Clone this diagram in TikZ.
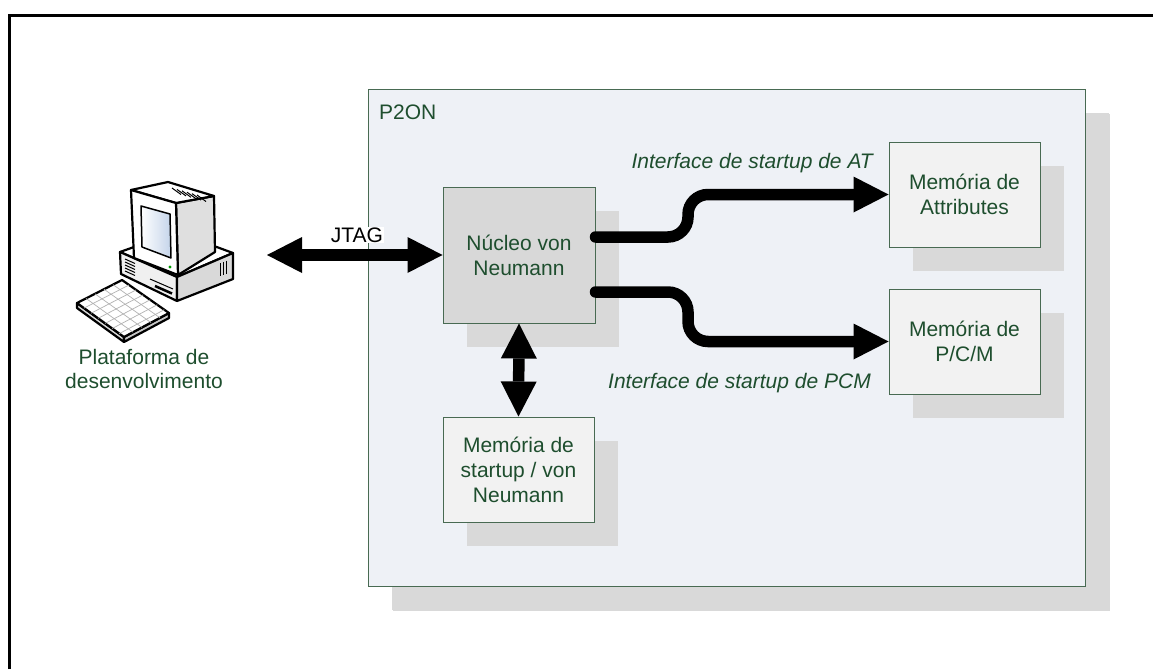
\documentclass[tikz,border=0pt]{standalone}
\usepackage{fontspec}
\setmainfont{Liberation Sans}
\usetikzlibrary{arrows.meta,shadows}
\definecolor{txtgreen}{RGB}{30,78,46}
\definecolor{edgegreen}{RGB}{72,106,82}
\definecolor{panelfill}{RGB}{238,241,246}
\definecolor{shadowgray}{RGB}{217,217,217}
\definecolor{corefill}{RGB}{216,216,216}
\definecolor{memfill}{RGB}{242,242,242}
\definecolor{screenblue}{RGB}{196,212,234}

\begin{document}
\begin{tikzpicture}[x=1pt,y=-1pt,
  txt/.style={font=\fontsize{21}{25}\selectfont, text=txtgreen},
  block/.style={txt, draw=edgegreen, line width=1pt, align=center, inner sep=0pt,
    drop shadow={shadow xshift=24pt, shadow yshift=-24pt, fill=shadowgray, opacity=1}},
  memblock/.style={block, fill=memfill, minimum width=151pt, minimum height=105pt},
  bigtip/.tip={Triangle[length=35pt,width=36pt,line width=0pt]},
  bigarrow/.style={line width=11.5pt, -bigtip},
  bigdouble/.style={line width=11.5pt, bigtip-bigtip},
  pcline/.style={draw=black, line width=2.2pt, line join=round},
]
\useasboundingbox (0,0) rectangle (1153,669);

% outer frame (top and left edges)
\draw[line width=3pt] (9.5,669) -- (9.5,15.5) -- (1153,15.5);

% P2ON enclosure
\node[block, fill=panelfill, minimum width=717pt, minimum height=497pt,
  drop shadow={shadow xshift=25pt, shadow yshift=-25pt, fill=shadowgray, opacity=1}]
  (p2on) at (726.5,337.5) {};
\node[txt, anchor=west, inner sep=0pt] (p2onlabel) at (379,112) {P2ON};

% inner blocks
\node[block, fill=corefill, minimum width=152pt, minimum height=136pt]
  (nucleo) at (519,255) {Núcleo von\\Neumann};
\node[memblock] (attr) at (964.5,194.5) {Memória de\\Attributes};
\node[memblock] (pcm) at (964.5,341.5) {Memória de\\P/C/M};
\node[memblock] (startup) at (518.5,469.5) {Memória de\\startup / von\\Neumann};

% development workstation
\begin{scope}[pcline]
  % base unit
  \filldraw[fill=white] (120,252) -- (176,232) -- (233,253) -- (177,277) -- cycle;
  \filldraw[fill=gray!12] (120,252) -- (177,277) -- (177,301) -- (121,274) -- cycle;
  \filldraw[fill=gray!30] (177,277) -- (233,253) -- (233,279) -- (177,301) -- cycle;
  \foreach \i in {0,...,4}
    \draw[line width=1pt] (125,{259+3*\i}) -- (135,{263.5+3*\i});
  \draw[line width=1pt] (150,279) -- (173,289);
  \draw[line width=2.5pt] (155,286) -- (172,293.5);
  \foreach \i in {0,1,2}
    \draw[line width=1pt] ({220+3*\i},{263-1.1*\i}) -- ({220+3*\i},{276-1.1*\i});
  % monitor housing
  \filldraw[fill=gray!25] (176,203) -- (214,196) -- (215,252) -- (178,275) -- cycle;
  \filldraw[fill=white] (131,190) -- (168,182) -- (214,196) -- (176,203) -- cycle;
  \foreach \i in {0,...,5}
    \draw[line width=1pt] ({172+5*\i},{188+1.4*\i}) -- ({181+5*\i},{194.5+1.4*\i});
  % monitor front and screen
  \filldraw[fill=white] (131,190) -- (176,203) -- (178,275) -- (134,258) -- cycle;
  \shade[left color=white, right color=screenblue, draw=black, line width=1.5pt]
    (141,206) -- (170,214) -- (171,258) -- (142,247) -- cycle;
  \fill[green!60!black] (170,267) circle (1.6);
  % keyboard
  \filldraw[fill=gray!30] (77,303) -- (124,337) -- (124,342) -- (77,308) -- cycle;
  \filldraw[fill=gray!45] (124,337) -- (169,313) -- (169,318) -- (124,342) -- cycle;
  \filldraw[fill=white] (77,303) -- (122,280) -- (169,313) -- (124,337) -- cycle;
  \foreach \t in {0.2,0.4,0.6,0.8}
    \draw[gray!60, line width=0.7pt] ({77+45*\t},{303-23*\t}) -- ({124+45*\t},{337-24*\t});
  \foreach \t in {0.15,0.3,0.45,0.6,0.75,0.9}
    \draw[gray!60, line width=0.7pt] ({77+47*\t},{303+34*\t}) -- ({122+47*\t},{280+33*\t});
\end{scope}
\node[txt, align=center, font=\fontsize{21}{24}\selectfont] (pclabel) at (144,369)
  {Plataforma de\\desenvolvimento};

% connections
\coordinate (pcport) at (267,255);
\draw[bigdouble] (pcport) -- (nucleo.west);
\node[fill=white, inner sep=1pt, font=\fontsize{21}{25}\selectfont] (jtag) at (357,235) {JTAG};

\draw[bigdouble] (nucleo.south) -- (startup.north);

\draw[bigarrow, line cap=round, rounded corners=20pt]
  ([yshift=18pt]nucleo.east) -- (688,237) |- (attr.west);
\draw[bigarrow, line cap=round, rounded corners=20pt]
  ([yshift=-37pt]nucleo.east) -- (688,292) |- (pcm.west);

\node[txt, font=\fontsize{21}{25}\selectfont\itshape, anchor=east, inner sep=0pt]
  (ifat) at (873,163) {Interface de startup de AT};
\node[txt, font=\fontsize{21}{25}\selectfont\itshape, anchor=east, inner sep=0pt]
  (ifpcm) at (871,383) {Interface de startup de PCM};
\end{tikzpicture}
\end{document}
